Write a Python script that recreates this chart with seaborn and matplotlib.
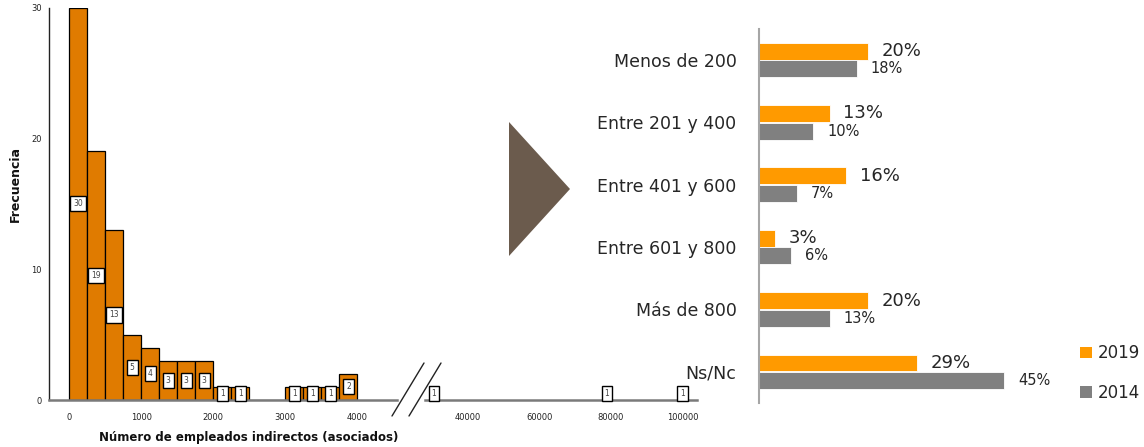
import numpy as np
import pandas as pd
import seaborn as sns
import matplotlib.pyplot as plt
from matplotlib.patches import Polygon, Patch
from matplotlib.lines import Line2D

# left: histogram of indirect employees (SPSS style, broken x axis)
bin_edges = [0, 250, 500, 750, 1000, 1250, 1500, 1750, 2000, 2250, 2500,
             2750, 3000, 3250, 3500, 3750, 4000]
bin_counts = [30, 19, 13, 5, 4, 3, 3, 3, 1, 1, 0, 0, 1, 1, 1, 2]
far_values = [30500, 78900, 99900]
far_counts = [1, 1, 1]

# right: company size distribution
categories = ["Menos de 200", "Entre 201 y 400", "Entre 401 y 600",
              "Entre 601 y 800", "Más de 800", "Ns/Nc"]
pct_2019 = [20, 13, 16, 3, 20, 29]
pct_2014 = [18, 10, 7, 6, 13, 45]

W, H = 1144, 447


def box(l, t, r, b):
    return [l / W, 1 - b / H, (r - l) / W, (b - t) / H]


def pt(x, y):
    return (x / W, 1 - y / H)


sns.set_style("white")
plt.rcParams["font.family"] = ["DejaVu Sans"]

fig = plt.figure(figsize=(W / 100, H / 100), dpi=100)

hist_color = "#E07B00"
centers = [(a + b) / 2 for a, b in zip(bin_edges[:-1], bin_edges[1:])]
label_box = dict(boxstyle="square,pad=0.4", fc="white", ec="black", lw=1)

# segment 1
ax1 = fig.add_axes(box(49.3, 7.6, 397, 400))
sns.histplot(x=centers, weights=bin_counts, bins=bin_edges, ax=ax1,
             color=hist_color, alpha=1, edgecolor="black", linewidth=0.9)
for c, n in zip(centers, bin_counts):
    if n > 0:
        ax1.text(c, n / 2, str(n), ha="center", va="center", fontsize=5.5,
                 color="#444444", bbox=label_box)
ax1.set_xlim(-274, 4549)
ax1.set_ylim(0, 30)
ax1.set_xticks([0, 1000, 2000, 3000, 4000])
ax1.set_yticks([0, 10, 20, 30])
ax1.set_xlabel("")
ax1.set_ylabel("")
ax1.tick_params(axis="both", labelsize=6, length=3.5, width=1, direction="out",
                colors="#222222", pad=2)
ax1.tick_params(axis="x", length=5, width=1.2, pad=4)
for s in ["top", "right"]:
    ax1.spines[s].set_visible(False)
ax1.spines["left"].set_color("#222222")
ax1.spines["left"].set_linewidth(1)
ax1.spines["bottom"].set_color("#7a7a7a")
ax1.spines["bottom"].set_linewidth(1.8)

# segment 2 (after the break)
ax2 = fig.add_axes(box(425, 7.6, 697, 400))
sns.histplot(x=far_values, weights=far_counts, binwidth=250, ax=ax2,
             color=hist_color, alpha=1, edgecolor="black", linewidth=0.5)
for v, n in zip(far_values, far_counts):
    ax2.text(v, n / 2, str(n), ha="center", va="center", fontsize=5.5,
             color="#444444", bbox=label_box)
ax2.set_xlim(27972, 104056)
ax2.set_ylim(0, 30)
ax2.set_xticks([40000, 60000, 80000, 100000])
ax2.set_yticks([])
ax2.set_xlabel("")
ax2.set_ylabel("")
ax2.tick_params(axis="x", labelsize=6, length=5, width=1.2, pad=4, colors="#222222")
for s in ["top", "right", "left"]:
    ax2.spines[s].set_visible(False)
ax2.spines["bottom"].set_color("#7a7a7a")
ax2.spines["bottom"].set_linewidth(1.8)
ax2.patch.set_alpha(0)

# break marks
for x0, x1 in [(392, 424), (409, 441)]:
    fig.add_artist(Line2D([x0 / W, x1 / W], [1 - 416 / H, 1 - 363 / H],
                          color="#222222", lw=1))

fig.text(15 / W, 1 - 184 / H, "Frecuencia", rotation=90, ha="center", va="center",
         fontsize=9, fontweight="bold", color="#111111")
fig.text(249 / W, 1 - 437 / H, "Número de empleados indirectos (asociados)",
         ha="center", va="center", fontsize=8.5, fontweight="bold", color="#111111")

# arrow triangle
fig.add_artist(Polygon([pt(509, 122), pt(570, 189), pt(509, 256)], closed=True,
                       transform=fig.transFigure, fc="#6B5B4D", ec="none"))

# right: grouped horizontal bars
df = pd.DataFrame({
    "cat": categories * 2,
    "year": ["2019"] * len(categories) + ["2014"] * len(categories),
    "value": pct_2019 + pct_2014,
})
ax3 = fig.add_axes(box(758.7, 28.7, 758.7 + 272.5, 403))
sns.barplot(data=df, y="cat", x="value", hue="year", hue_order=["2019", "2014"],
            palette={"2019": "#FF9A00", "2014": "#808080"}, orient="h",
            width=0.565, gap=0.04, edgecolor="white", linewidth=0.6,
            saturation=1, ax=ax3, legend=False)
for cont, fs in zip(ax3.containers, [13, 10.5]):
    ax3.bar_label(cont, labels=[f"{int(v)}%" for v in cont.datavalues],
                  padding=10, fontsize=fs, color="#262626")
ax3.set_xlim(0, 50)
ax3.set_ylim(5.5, -0.5)
ax3.set_xlabel("")
ax3.set_ylabel("")
ax3.set_xticks([])
ax3.set_yticks(range(len(categories)))
ax3.set_yticklabels(categories, fontsize=12.5, color="#262626")
ax3.set_yticks(np.arange(-0.5, len(categories)), minor=True)
ax3.tick_params(axis="y", which="major", length=0, pad=16)
ax3.tick_params(axis="y", which="minor", length=5, width=1.5, color="#A6A6A6")
for s in ["top", "right", "bottom"]:
    ax3.spines[s].set_visible(False)
ax3.spines["left"].set_color("#A6A6A6")
ax3.spines["left"].set_linewidth(1.5)
ax3.patch.set_alpha(0)

handles = [Patch(fc="#FF9A00", ec="none"), Patch(fc="#808080", ec="none")]
fig.legend(handles, ["2019", "2014"], loc="center left",
           bbox_to_anchor=(1080 / W, 1 - 373 / H), frameon=False, fontsize=12,
           borderpad=0, borderaxespad=0,
           handlelength=0.7, handleheight=0.7, handletextpad=0.35, labelspacing=1.3,
           labelcolor="#262626")

fig.savefig("out.png", dpi=100)
